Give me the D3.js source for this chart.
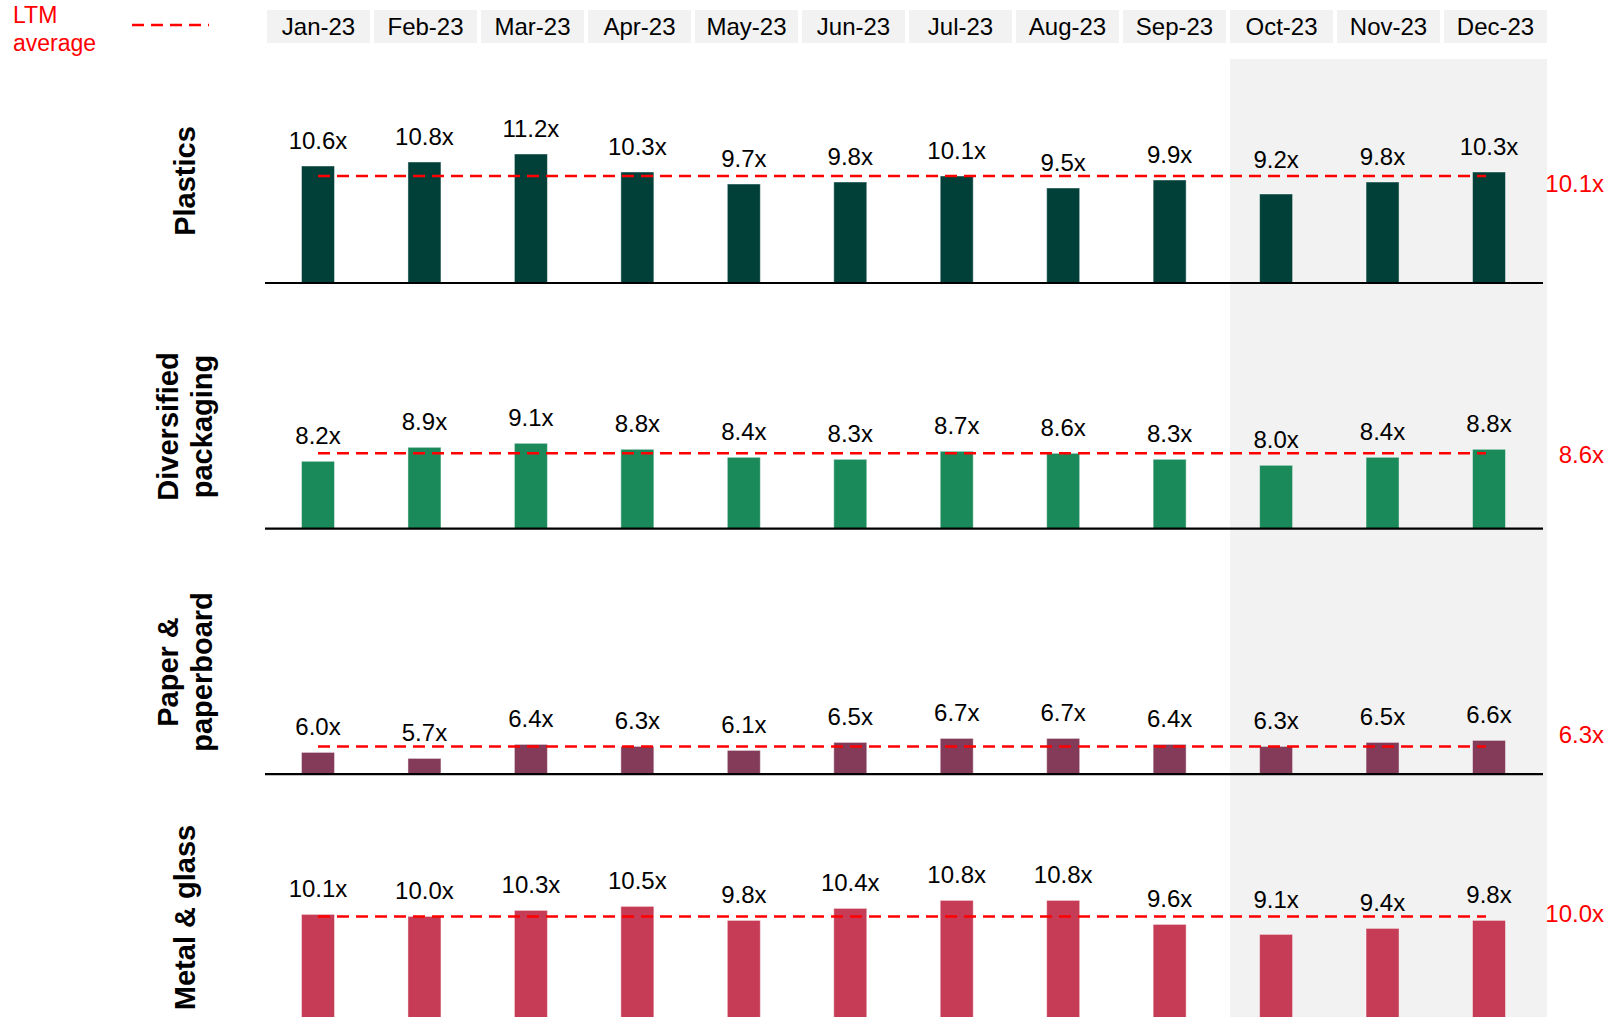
<!DOCTYPE html>
<html>
<head>
<meta charset="utf-8">
<script src="https://cdn.jsdelivr.net/npm/d3@7"></script>
<style>
  html, body { margin: 0; padding: 0; background: #fff; }
  svg { display: block; font-family: "Liberation Sans", Arial, sans-serif; }
</style>
</head>
<body>
<svg id="chart" width="1615" height="1017"></svg>
<script>
// ---------- DATA ----------
const months = ["Jan-23","Feb-23","Mar-23","Apr-23","May-23","Jun-23","Jul-23","Aug-23","Sep-23","Oct-23","Nov-23","Dec-23"];
const shadedMonths = ["Oct-23","Nov-23","Dec-23"];
const sectors = [["Plastics"], ["Diversified","packaging"], ["Paper &","paperboard"], ["Metal & glass"]];
const plastics    = [10.6,10.8,11.2,10.3,9.7,9.8,10.1,9.5,9.9,9.2,9.8,10.3];
const diversified = [8.2,8.9,9.1,8.8,8.4,8.3,8.7,8.6,8.3,8.0,8.4,8.8];
const paper       = [6.0,5.7,6.4,6.3,6.1,6.5,6.7,6.7,6.4,6.3,6.5,6.6];
const metal       = [10.1,10.0,10.3,10.5,9.8,10.4,10.8,10.8,9.6,9.1,9.4,9.8];
const ltmAverages = [10.1, 8.6, 6.3, 10.0];
const legendLines = ["LTM","average"];

const seriesValues = [plastics, diversified, paper, metal];
const colors = ["#013f39", "#1b8a5a", "#843b59", "#c63b55"];

// ---------- LAYOUT ----------
const svg = d3.select("#chart");
const fmt = v => d3.format(".1f")(v) + "x";

const headerX = d3.scaleBand().domain(months).range([267, 1547]).paddingInner(4 / 107).paddingOuter(0);
const barX = d3.scalePoint().domain(months).range([318, 1489]);
const barW = 33;

const panelBase = i => 283 + i * 245.6;
const pxPerUnit = 20;
const panelMin = [4.75, 4.835, 4.91, 4.83];
const avgLabelDy = [16, 10, -3, 6];

// shaded forecast region
const shadeX0 = headerX(shadedMonths[0]);
const shadeX1 = headerX(shadedMonths[shadedMonths.length - 1]) + headerX.bandwidth();
svg.append("rect")
  .attr("x", shadeX0).attr("y", 59)
  .attr("width", shadeX1 - shadeX0).attr("height", 1017 - 59)
  .attr("fill", "#f2f2f2");

// header boxes
const hdr = svg.append("g");
hdr.selectAll("rect").data(months).join("rect")
  .attr("x", d => headerX(d)).attr("y", 10)
  .attr("width", headerX.bandwidth()).attr("height", 33)
  .attr("fill", "#f2f2f2");
hdr.selectAll("text").data(months).join("text")
  .attr("x", d => headerX(d) + headerX.bandwidth() / 2)
  .attr("y", 35)
  .attr("text-anchor", "middle")
  .attr("font-size", 24)
  .attr("fill", "#000")
  .text(d => d);

// legend
svg.append("g").selectAll("text").data(legendLines).join("text")
  .attr("x", 13).attr("y", (d, i) => 23 + i * 28)
  .attr("font-size", 23).attr("fill", "#ff0000")
  .text(d => d);
svg.append("line")
  .attr("x1", 132).attr("x2", 209).attr("y1", 25).attr("y2", 25)
  .attr("stroke", "#ff0000").attr("stroke-width", 2.5)
  .attr("stroke-dasharray", "12,7");

// panels
seriesValues.forEach((vals, i) => {
  const base = panelBase(i);
  const y = d3.scaleLinear().domain([panelMin[i], panelMin[i] + 12]).range([base, base - 12 * pxPerUnit]);
  const g = svg.append("g");
  const ya = y(ltmAverages[i]);

  g.selectAll("rect.bar").data(vals).join("rect")
    .attr("class", "bar")
    .attr("x", (d, j) => barX(months[j]) - barW / 2)
    .attr("y", d => y(d))
    .attr("width", barW)
    .attr("height", d => base - y(d))
    .attr("fill", colors[i])
    .attr("stroke", "#ffffff").attr("stroke-opacity", 0.45).attr("stroke-width", 1);

  // baseline axis
  g.append("line")
    .attr("x1", 265).attr("x2", 1543)
    .attr("y1", base).attr("y2", base)
    .attr("stroke", "#000").attr("stroke-width", 2.2);

  // value labels (lifted above the average line when they would collide)
  g.selectAll("text.val").data(vals).join("text")
    .attr("class", "val")
    .attr("x", (d, j) => barX(months[j]))
    .attr("y", d => {
      const yy = y(d) - 17;
      return yy > ya - 2 ? ya - 8 : yy;
    })
    .attr("text-anchor", "middle")
    .attr("font-size", 24)
    .attr("fill", "#000")
    .text(d => fmt(d));

  // LTM average dashed line
  g.append("line")
    .attr("x1", barX(months[0])).attr("x2", barX(months[months.length - 1]) - 3)
    .attr("y1", ya).attr("y2", ya)
    .attr("stroke", "#ff0000").attr("stroke-width", 2.5)
    .attr("stroke-dasharray", "12,7");

  g.append("text")
    .attr("x", 1604).attr("y", ya + avgLabelDy[i])
    .attr("text-anchor", "end")
    .attr("font-size", 24)
    .attr("fill", "#ff0000")
    .text(fmt(ltmAverages[i]));

  // sector label (rotated, bold)
  const lines = sectors[i];
  const cy = 181 + i * 245.5;
  const t = g.append("text")
    .attr("transform", `translate(0,${cy}) rotate(-90)`)
    .attr("text-anchor", "middle")
    .attr("font-size", 29)
    .attr("font-weight", "bold")
    .attr("fill", "#000");
  lines.forEach((ln, k) => {
    t.append("tspan")
      .attr("x", 0)
      .attr("y", 195 + (k - (lines.length - 1) / 2) * 34)
      .text(ln);
  });
});
</script>
</body>
</html>
